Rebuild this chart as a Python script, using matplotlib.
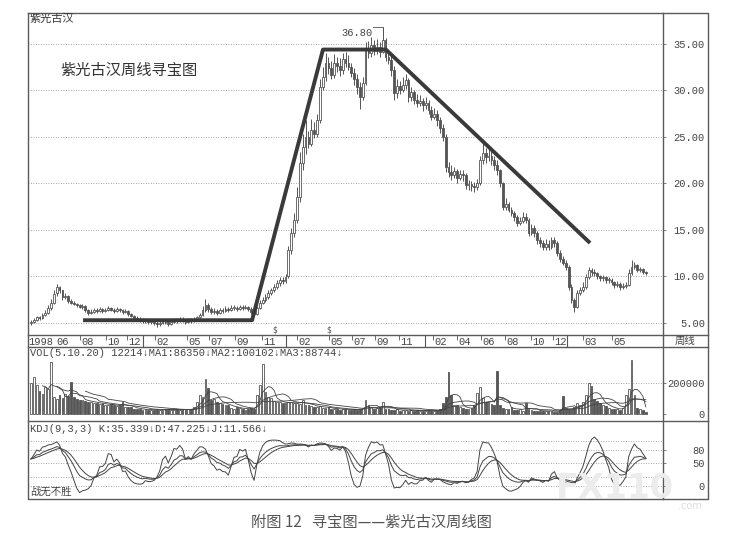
import numpy as np
import pandas as pd
import matplotlib
matplotlib.use('Agg')
import matplotlib.pyplot as plt

# weekly bars of 紫光古汉 (price in yuan)
opens = [5.0, 5.1, 5.3, 5.6, 5.5, 5.9, 6.1, 6.6, 7.2, 8.2,
         8.9, 8.5, 7.8, 7.9, 7.4, 7.2, 7.0, 6.9, 6.7, 6.8,
         6.4, 6.1, 6.2, 6.4, 6.3, 6.5, 6.3, 6.4, 6.6, 6.4,
         6.3, 6.5, 6.4, 6.2, 6.3, 6.0, 5.8, 5.5, 5.4, 5.3,
         5.2, 5.3, 5.1, 5.1, 5.0, 4.9, 5.0, 5.2, 5.1, 4.9,
         5.1, 5.3, 5.2, 5.4, 5.3, 5.1, 5.3, 5.2, 5.4, 5.6,
         5.9, 6.4, 6.9, 6.5, 6.2, 6.3, 6.1, 6.4, 6.3, 6.5,
         6.4, 6.6, 6.6, 6.5, 6.7, 6.6, 6.7, 6.5, 6.2, 6.0,
         6.6, 7.2, 7.5, 7.8, 8.2, 8.5, 8.9, 9.3, 9.6, 9.5,
         10.0, 12.8, 14.7, 16.1, 18.5, 22.2, 23.9, 25.0, 24.2, 25.7,
         25.3, 26.8, 30.4, 31.5, 33.0, 32.4, 31.7, 33.0, 32.6, 32.2,
         33.4, 33.0, 32.5, 31.9, 31.2, 30.4, 29.3, 30.8, 34.4, 34.0,
         34.9, 34.2, 34.7, 34.1, 35.4, 33.6, 33.3, 32.2, 29.7, 30.5,
         30.1, 30.6, 31.1, 29.3, 29.8, 29.0, 28.7, 28.9, 28.4, 28.7,
         27.9, 27.2, 27.5, 26.8, 26.0, 25.0, 21.8, 21.2, 20.9, 21.3,
         20.6, 21.0, 20.9, 19.8, 19.9, 19.7, 19.6, 20.0, 22.5, 23.3,
         22.8, 23.0, 22.5, 22.0, 21.4, 20.0, 17.5, 17.8, 17.2, 16.8,
         16.4, 15.8, 16.0, 16.4, 16.1, 14.7, 15.2, 14.7, 13.9, 13.6,
         13.2, 13.5, 13.2, 13.9, 13.6, 12.5, 11.9, 11.5, 11.0, 8.9,
         7.5, 6.7, 8.2, 8.5, 8.9, 9.9, 10.7, 10.5, 10.4, 10.0,
         9.8, 9.9, 9.6, 9.6, 9.4, 9.1, 9.2, 8.9, 9.0, 9.1,
         10.4, 11.0, 11.2, 10.7, 10.8, 10.5]
closes = [5.1, 5.3, 5.6, 5.5, 5.9, 6.1, 6.6, 7.2, 8.1, 8.9,
          8.5, 7.8, 7.9, 7.4, 7.2, 7.0, 6.9, 6.7, 6.8, 6.4,
          6.1, 6.2, 6.4, 6.3, 6.5, 6.3, 6.4, 6.6, 6.4, 6.3,
          6.5, 6.4, 6.2, 6.3, 6.0, 5.8, 5.5, 5.4, 5.3, 5.2,
          5.3, 5.1, 5.1, 5.0, 4.9, 5.0, 5.2, 5.1, 4.9, 5.1,
          5.3, 5.2, 5.4, 5.3, 5.1, 5.3, 5.2, 5.4, 5.6, 5.9,
          6.4, 6.9, 6.5, 6.2, 6.3, 6.1, 6.4, 6.3, 6.5, 6.4,
          6.6, 6.6, 6.5, 6.7, 6.6, 6.7, 6.5, 6.2, 6.0, 6.6,
          7.2, 7.5, 7.8, 8.2, 8.5, 8.9, 9.3, 9.6, 9.5, 9.9,
          12.8, 14.7, 16.1, 18.5, 22.2, 23.9, 25.0, 24.2, 25.7, 25.3,
          26.8, 30.4, 31.5, 33.0, 32.4, 31.7, 33.0, 32.6, 32.2, 33.4,
          33.0, 32.5, 31.9, 31.2, 30.4, 29.3, 30.8, 34.4, 34.0, 34.9,
          34.2, 34.7, 34.1, 35.4, 33.6, 33.3, 32.2, 29.7, 30.5, 30.1,
          30.6, 31.1, 29.3, 29.8, 29.0, 28.7, 28.9, 28.4, 28.7, 27.9,
          27.2, 27.5, 26.8, 26.0, 25.0, 21.8, 21.2, 20.9, 21.3, 20.6,
          21.0, 20.9, 19.8, 19.9, 19.7, 19.6, 20.0, 22.5, 23.3, 22.8,
          23.0, 22.5, 22.0, 21.4, 20.0, 17.5, 17.8, 17.2, 16.8, 16.4,
          15.8, 16.0, 16.4, 16.1, 14.7, 15.2, 14.7, 13.9, 13.6, 13.2,
          13.5, 13.2, 13.9, 13.6, 12.5, 11.9, 11.5, 11.0, 8.9, 7.5,
          6.7, 8.2, 8.5, 8.9, 9.9, 10.7, 10.5, 10.4, 10.0, 9.8,
          9.9, 9.6, 9.6, 9.4, 9.1, 9.2, 8.9, 9.0, 9.1, 10.4,
          11.0, 11.2, 10.7, 10.8, 10.5, 10.4]
highs = [5.3, 5.5, 5.8, 5.8, 6.1, 6.4, 6.9, 7.6, 8.5, 9.2,
         9.0, 8.6, 8.2, 8.0, 7.6, 7.4, 7.2, 7.0, 7.0, 6.9,
         6.5, 6.5, 6.6, 6.6, 6.7, 6.6, 6.6, 6.8, 6.7, 6.6,
         6.7, 6.6, 6.5, 6.5, 6.4, 6.1, 5.9, 5.7, 5.6, 5.5,
         5.5, 5.4, 5.3, 5.3, 5.2, 5.2, 5.4, 5.3, 5.3, 5.3,
         5.5, 5.5, 5.6, 5.6, 5.4, 5.5, 5.5, 5.6, 5.8, 6.1,
         6.8, 7.6, 7.1, 6.7, 6.6, 6.5, 6.6, 6.6, 6.8, 6.7,
         6.9, 6.9, 6.8, 6.9, 6.9, 6.9, 6.8, 6.7, 6.4, 6.8,
         7.5, 7.8, 8.1, 8.5, 8.8, 9.2, 9.6, 9.9, 9.9, 10.3,
         13.3, 15.2, 16.8, 19.6, 23.4, 25.3, 26.8, 25.6, 26.9, 26.6,
         27.5, 31.2, 32.5, 34.0, 33.6, 33.2, 33.9, 33.6, 33.5, 34.0,
         34.1, 33.8, 33.0, 32.4, 31.8, 30.9, 31.5, 35.2, 35.3, 35.8,
         35.4, 35.5, 35.2, 36.8, 35.6, 34.4, 33.8, 32.6, 31.2, 31.0,
         31.4, 31.8, 31.3, 30.4, 30.1, 29.6, 29.5, 29.2, 29.3, 29.0,
         28.3, 28.1, 27.9, 27.2, 26.4, 25.3, 22.3, 22.0, 21.8, 21.6,
         21.5, 21.4, 21.1, 20.4, 20.3, 20.2, 20.5, 23.0, 24.3, 23.8,
         23.8, 23.5, 23.0, 22.5, 21.6, 20.2, 18.4, 18.0, 17.5, 17.0,
         16.6, 16.4, 16.9, 16.8, 16.3, 15.6, 15.5, 14.9, 14.2, 13.9,
         14.0, 13.9, 14.3, 14.2, 13.8, 12.8, 12.2, 11.8, 11.2, 9.2,
         7.7, 8.5, 8.9, 9.4, 10.3, 11.0, 10.9, 10.8, 10.5, 10.2,
         10.2, 10.0, 9.9, 9.8, 9.5, 9.5, 9.4, 9.3, 9.4, 10.8,
         11.8, 11.6, 11.3, 11.0, 10.9, 10.6]
lows = [4.8, 5.0, 5.2, 5.3, 5.4, 5.8, 6.0, 6.4, 7.0, 7.9,
        8.2, 7.5, 7.6, 7.2, 7.0, 6.9, 6.7, 6.6, 6.5, 6.2,
        5.9, 6.0, 6.1, 6.1, 6.2, 6.1, 6.2, 6.3, 6.3, 6.1,
        6.2, 6.2, 6.0, 6.1, 5.8, 5.6, 5.3, 5.2, 5.1, 5.0,
        5.0, 4.9, 4.9, 4.8, 4.6, 4.7, 4.9, 4.9, 4.7, 4.8,
        5.0, 5.0, 5.1, 5.1, 4.9, 5.0, 5.0, 5.1, 5.3, 5.5,
        5.8, 6.2, 6.2, 6.0, 6.0, 5.9, 6.0, 6.1, 6.2, 6.2,
        6.3, 6.4, 6.3, 6.4, 6.4, 6.5, 6.3, 6.0, 5.8, 5.9,
        6.5, 7.0, 7.3, 7.6, 8.0, 8.3, 8.7, 9.0, 9.2, 9.3,
        9.8, 12.4, 14.3, 15.8, 18.0, 21.5, 23.2, 23.8, 24.0, 24.9,
        25.0, 26.5, 30.0, 31.0, 31.8, 31.2, 31.3, 32.0, 31.6, 31.8,
        32.5, 32.2, 31.4, 30.6, 29.6, 28.0, 29.0, 30.6, 33.5, 33.6,
        33.8, 33.9, 33.6, 34.0, 33.2, 32.8, 31.6, 29.0, 29.2, 29.6,
        29.8, 30.2, 28.8, 28.9, 28.5, 28.2, 28.3, 27.8, 28.0, 27.5,
        26.8, 26.9, 26.2, 25.4, 24.6, 21.2, 20.7, 20.4, 20.6, 20.1,
        20.4, 20.3, 19.4, 19.3, 19.2, 19.1, 19.3, 19.8, 22.1, 22.2,
        22.4, 22.0, 21.4, 20.9, 19.6, 17.2, 17.1, 16.9, 16.5, 16.0,
        15.4, 15.5, 15.7, 15.8, 14.4, 14.5, 14.3, 13.5, 13.2, 12.9,
        12.9, 12.8, 13.0, 13.2, 12.2, 11.6, 11.2, 10.7, 8.6, 7.2,
        6.2, 6.6, 8.0, 8.3, 8.7, 9.7, 10.1, 10.1, 9.7, 9.5,
        9.5, 9.3, 9.3, 9.1, 8.8, 8.9, 8.6, 8.7, 8.8, 9.0,
        10.2, 10.8, 10.5, 10.5, 10.3, 10.2]
# weekly volume, thousands of shares
vol_k = [200, 240, 190, 150, 130, 174, 160, 335, 110, 100,
         120, 105, 130, 115, 206, 110, 95, 90, 88, 85,
         80, 75, 70, 72, 65, 68, 60, 55, 62, 58,
         50, 55, 77, 48, 45, 42, 35, 30, 32, 28,
         30, 26, 28, 25, 30, 27, 24, 33, 30, 26,
         28, 32, 25, 30, 27, 35, 30, 45, 80, 122,
         110, 226, 168, 90, 100, 75, 70, 65, 60, 55,
         40, 35, 45, 38, 30, 28, 33, 40, 30, 122,
         187, 322, 142, 110, 103, 85, 80, 75, 70, 68,
         75, 80, 68, 72, 65, 90, 60, 55, 50, 48,
         45, 52, 40, 38, 42, 35, 30, 33, 28, 32,
         30, 28, 25, 30, 27, 35, 40, 90, 60, 45,
         35, 40, 42, 77, 35, 30, 28, 25, 30, 22,
         25, 28, 20, 24, 22, 26, 20, 22, 18, 24,
         20, 22, 25, 30, 70, 110, 271, 122, 60, 55,
         45, 40, 35, 30, 38, 60, 135, 174, 103, 80,
         75, 65, 60, 277, 55, 40, 35, 30, 45, 28,
         25, 30, 22, 70, 30, 25, 20, 22, 18, 20,
         22, 18, 20, 16, 15, 25, 116, 40, 35, 30,
         45, 70, 60, 80, 122, 200, 180, 100, 85, 70,
         60, 50, 40, 35, 30, 32, 28, 40, 122, 160,
         348, 122, 40, 30, 25, 12.2]

# hand-drawn trend lines (bar index, price)
trend_x = [18.2, 77.3, 102.1, 124.1, 195.5]
trend_y = [5.3, 5.3, 34.4, 34.4, 13.6]

# date strip
month_pos = [8.3, 17.1, 26.2, 33.6, 43.4, 54.5, 62.2, 71.3, 80.8,
             93.0, 104.2, 112.2, 120.3, 128.7,
             140.6, 149.0, 157.3, 165.7, 174.8, 182.5, 193.0, 203.1]
month_lab = ['06', '08', '10', '12', '02', '05', '07', '09', '11',
             '02', '05', '07', '09', '11',
             '02', '04', '06', '08', '10', '12', '03', '05']
year_sep = [39.2, 89.2, 137.8, 187.4]

price_ticks = [5, 10, 15, 20, 25, 30, 35]
vol_ticks = [0, 200000]
kdj_ticks = [0, 50, 80]
kdj_grid = [0, 20, 50, 80, 100]

o = np.array(opens); c = np.array(closes)
h = np.array(highs); l = np.array(lows)
vol = np.array(vol_k) * 1000
idx = np.arange(len(c))
up = c >= o

# indicators as named in the panel titles
vs = pd.Series(vol)
ma1 = vs.rolling(5).mean()
ma2 = vs.rolling(10).mean()
ma3 = vs.rolling(20).mean()
low9 = pd.Series(l).rolling(9, min_periods=1).min()
high9 = pd.Series(h).rolling(9, min_periods=1).max()
rsv = (pd.Series(c) - low9) / (high9 - low9) * 100
K = rsv.ewm(com=2, adjust=False).mean()
D = K.ewm(com=2, adjust=False).mean()
J = 3 * K - 2 * D

GRAY = '#555555'
TXT = '#444444'
MONO = ['Liberation Mono', 'DejaVu Sans Mono']
CJK = ['Noto Sans CJK SC', 'DejaVu Sans']

W, H = 737, 544
fig = plt.figure(figsize=(W / 100, H / 100), dpi=100)


def box(x0, y0, x1, y1):
    return [x0 / W, 1 - y1 / H, (x1 - x0) / W, (y1 - y0) / H]


ax_p = fig.add_axes(box(28, 13, 663, 335))
ax_d = fig.add_axes(box(28, 335, 663, 347))
ax_v = fig.add_axes(box(28, 347, 663, 421))
ax_k = fig.add_axes(box(28, 421, 663, 499))

for ax in (ax_p, ax_d, ax_v, ax_k):
    ax.set_xlim(-1.05, 221)
    ax.set_xticks([])
    for s in ax.spines.values():
        s.set_visible(False)
    ax.patch.set_alpha(0)


def right_ticks(ax, ticks, labels):
    ax.yaxis.tick_right()
    ax.set_yticks(ticks)
    ax.set_yticklabels(labels, fontfamily=MONO, fontsize=7.5, color=TXT)
    ax.tick_params(axis='y', length=2, width=0.6, color='#666666', pad=28.2)
    plt.setp(ax.get_yticklabels(), ha='right')


dotted = dict(color='#8a8a8a', lw=0.6, ls=(0, (1, 2)), zorder=0)

# price panel
ax_p.set_ylim(3.71, 38.33)
for v in price_ticks:
    ax_p.axhline(v, **dotted)
ax_p.vlines(idx, l, h, color=GRAY, lw=0.7, zorder=2)
ax_p.bar(idx, np.maximum(np.abs(c - o), 0.08), bottom=np.minimum(o, c), width=0.62,
         color=np.where(up, 'white', GRAY), edgecolor=GRAY, linewidth=0.6, zorder=3)
ax_p.plot(trend_x, trend_y, color='#3a3a3a', lw=2.8, solid_capstyle='butt', zorder=5)
ax_p.text(119.4, 36.15, '36.80', ha='right', va='center', fontfamily=MONO,
          fontsize=7.5, color=TXT)
ax_p.plot([119.6, 123.2, 123.2], [36.85, 36.85, 36.0], color=GRAY, lw=0.6)
for xm in (85.3, 104.2):
    ax_p.text(xm, 4.25, '$', ha='center', va='center', fontsize=5.5, color=GRAY)
right_ticks(ax_p, price_ticks, ['%.2f' % v for v in price_ticks])

# date strip
ax_d.set_ylim(0, 1)
ax_d.set_yticks([])
ax_d.text(-0.8, 0.45, '1998', ha='left', va='center', fontfamily=MONO, fontsize=7.5, color=TXT)
for p, lab in zip(month_pos, month_lab):
    if p > 10:
        ax_d.vlines(p, 0.55, 1.0, color=GRAY, lw=0.6)
    ax_d.text(p + 0.5, 0.45, lab, ha='left', va='center', fontfamily=MONO,
              fontsize=7.5, color=TXT)
ax_d.vlines(year_sep, 0, 1, color=GRAY, lw=0.8)

# volume panel
ax_v.set_ylim(-45161, 432258)
ax_v.axhline(200000, **dotted)
ax_v.bar(idx, vol, width=0.62, color=np.where(up, 'white', GRAY), edgecolor=GRAY,
         linewidth=0.6, zorder=3)
for ma in (ma1, ma2, ma3):
    ax_v.plot(idx, ma, color='#444444', lw=0.6, zorder=4)
right_ticks(ax_v, vol_ticks, ['0', '200000'])

# KDJ panel
ax_k.set_ylim(-28.9, 144)
for v in kdj_grid:
    ax_k.axhline(v, **dotted)
for line in (K, D, J):
    ax_k.plot(idx, line, color='#444444', lw=0.7)
right_ticks(ax_k, kdj_ticks, ['0', '50', '80'])

# frame, headers and caption on a full-figure overlay
ax_o = fig.add_axes([0, 0, 1, 1])
ax_o.set_xlim(0, W)
ax_o.set_ylim(H, 0)
ax_o.axis('off')
fr = dict(color='#5a5a5a', lw=1.0)
ax_o.plot([28, 708, 708, 28, 28], [13, 13, 499, 499, 13], **fr)
ax_o.plot([663, 663], [13, 499], **fr)
for yy in (335, 347, 421):
    ax_o.plot([28, 708], [yy, yy], **fr)

ax_o.text(30, 19, '紫光古汉', ha='left', va='center', fontfamily=CJK, fontsize=8, color='#333333')
ax_o.text(60, 70, '紫光古汉周线寻宝图', ha='left', va='center', fontfamily=CJK,
          fontsize=11, color='#333333')
ax_o.text(685, 341, '周线', ha='center', va='center', fontfamily=CJK, fontsize=7.5, color=TXT)
ax_o.text(30, 353, 'VOL(5.10.20) 12214↓MA1:86350↓MA2:100102↓MA3:88744↓', ha='left',
          va='center', fontfamily=MONO, fontsize=7.5, color=TXT)
ax_o.text(30, 429, 'KDJ(9,3,3) K:35.339↓D:47.225↓J:11.566↓', ha='left', va='center',
          fontfamily=MONO, fontsize=7.5, color=TXT)
ax_o.text(30, 492, '战无不胜', ha='left', va='center', fontfamily=CJK, fontsize=7.5, color=TXT)
# faint watermark of the scan
ax_o.text(556, 488, 'FX110', ha='left', va='center', fontsize=24, weight='bold',
          color='#ececec', zorder=10)
ax_o.text(678, 506, '.com', ha='left', va='center', fontsize=7, color='#dddddd', zorder=10)
ax_o.text(371, 522, '附图 12   寻宝图——紫光古汉周线图', ha='center', va='center',
          fontfamily=CJK, fontsize=11, color='#555555')

fig.savefig('out.png', dpi=100, facecolor='white')
